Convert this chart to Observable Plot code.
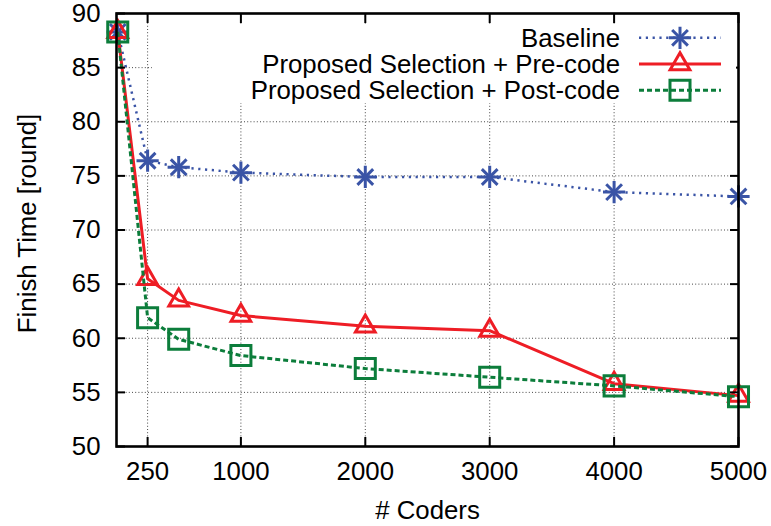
<!DOCTYPE html>
<html><head><meta charset="utf-8">
<script src="https://cdn.jsdelivr.net/npm/d3@7"></script>
<script src="https://cdn.jsdelivr.net/npm/@observablehq/plot@0.6"></script>
<style>
body{margin:0;background:#fff}
#chart svg{display:block}
</style></head><body><div id="chart"></div>
<script>
const coders = [10, 250, 500, 1000, 2000, 3000, 4000, 5000];
const baseline = [88.3, 76.4, 75.8, 75.3, 74.9, 74.9, 73.5, 73.1];
const preCode = [88.3, 65.5, 63.5, 62.1, 61.1, 60.7, 55.8, 54.7];
const postCode = [88.3, 61.9, 59.9, 58.4, 57.2, 56.4, 55.6, 54.6];
const seriesNames = ["Baseline", "Proposed Selection + Pre-code", "Proposed Selection + Post-code"];
const xTicks = [250, 1000, 2000, 3000, 4000, 5000];
const yTicks = [50, 55, 60, 65, 70, 75, 80, 85, 90];
const xLabel = "# Coders";
const yLabel = "Finish Time [round]";

const seriesValues = [baseline, preCode, postCode];
const styles = [
  {stroke: "#3a54a6", strokeWidth: 2.5, dash: "2.2,4.6"},
  {stroke: "#ee1d25", strokeWidth: 3, dash: null},
  {stroke: "#0c7d3b", strokeWidth: 3, dash: "5,3"}
];
const rows = seriesNames.map((s, si) => coders.map((c, i) => ({series: s, x: c, y: seriesValues[si][i]})));

const font = "Liberation Sans, Arial, Helvetica, sans-serif";
const fontSize = 25.8;
const gridStyle = {stroke: "#333", strokeOpacity: 0.9, strokeWidth: 1, strokeDasharray: "1,2.2"};

const marks = [
  Plot.gridX(xTicks, gridStyle),
  Plot.gridY(yTicks, gridStyle),
];
rows.forEach((data, i) => {
  const st = styles[i];
  marks.push(Plot.line(data, {x: "x", y: "y", stroke: st.stroke, strokeWidth: st.strokeWidth,
    strokeDasharray: st.dash, strokeLinecap: "butt", strokeLinejoin: "round"}));
  if (i === 0) {
    marks.push(Plot.dot(data, {x: "x", y: "y", symbol: "plus", r: 7.2, stroke: st.stroke, strokeWidth: 3, fill: "none"}));
    marks.push(Plot.dot(data, {x: "x", y: "y", symbol: "times", r: 7.2, stroke: st.stroke, strokeWidth: 3, fill: "none"}));
  } else if (i === 1) {
    marks.push(Plot.dot(data, {x: "x", y: "y", symbol: "triangle2", r: 9.4, stroke: st.stroke, strokeWidth: 3, fill: "none"}));
  } else {
    marks.push(Plot.dot(data, {x: "x", y: "y", symbol: "square", r: 11.3, stroke: st.stroke, strokeWidth: 3, fill: "none"}));
  }
});
marks.push(
  Plot.frame({stroke: "#000", strokeWidth: 2.6}),
  Plot.axisX(xTicks, {anchor: "bottom", tickSize: 0, tickPadding: 15, label: null, fill: "#000", tickFormat: d3.format("d")}),
  Plot.axisX(xTicks, {anchor: "bottom", tickSize: -9, fill: "none", label: null, strokeWidth: 2}),
  Plot.axisX(xTicks, {anchor: "top", tickSize: -9, fill: "none", label: null, strokeWidth: 2}),
  Plot.axisY(yTicks, {anchor: "left", tickSize: 0, tickPadding: 16, label: null, fill: "#000", tickFormat: d3.format("d")}),
  Plot.axisY(yTicks, {anchor: "left", tickSize: -9, fill: "none", label: null, strokeWidth: 2}),
  Plot.axisY(yTicks, {anchor: "right", tickSize: -9, fill: "none", label: null, strokeWidth: 2}),
  Plot.text([xLabel], {frameAnchor: "bottom", dy: 64, lineAnchor: "middle", textAnchor: "middle", fill: "#000"}),
  Plot.text([yLabel], {frameAnchor: "left", dx: -89, dy: -6.5, rotate: -90, lineAnchor: "middle", textAnchor: "middle", fill: "#000"})
);

const plot = Plot.plot({
  width: 771, height: 526,
  marginLeft: 116, marginRight: 33, marginTop: 13, marginBottom: 80,
  x: {type: "linear", domain: [0, 5000]},
  y: {domain: [50, 90]},
  style: {fontFamily: font, fontSize: fontSize + "px", background: "#fff", color: "#000"},
  marks
});
document.getElementById("chart").appendChild(plot);

// Legend (opaque key box, top right inside the frame)
const svg = d3.select(plot);
const key = svg.append("g").attr("class", "key");
key.append("rect").attr("x", 152).attr("y", 25).attr("width", 584).attr("height", 78).attr("fill", "#fff");
const symbolTypes = [[d3.symbolPlus, d3.symbolTimes], [d3.symbolTriangle2], [d3.symbolSquare]];
const symbolR = [7.2, 9.4, 11.3];
seriesNames.forEach((name, i) => {
  const y = 37.8 + i * 26.2;
  const st = styles[i];
  key.append("text").attr("x", 620).attr("y", y).attr("dy", "0.35em").attr("text-anchor", "end")
    .attr("font-family", font).attr("font-size", fontSize).attr("fill", "#000").text(name);
  key.append("line").attr("x1", 639).attr("x2", 721).attr("y1", y).attr("y2", y)
    .attr("stroke", st.stroke).attr("stroke-width", st.strokeWidth)
    .attr("stroke-dasharray", st.dash);
  symbolTypes[i].forEach(t => {
    key.append("path").attr("transform", `translate(680,${y})`)
      .attr("d", d3.symbol(t, Math.PI * symbolR[i] * symbolR[i])())
      .attr("fill", "none").attr("stroke", st.stroke).attr("stroke-width", 3);
  });
});
</script></body></html>
